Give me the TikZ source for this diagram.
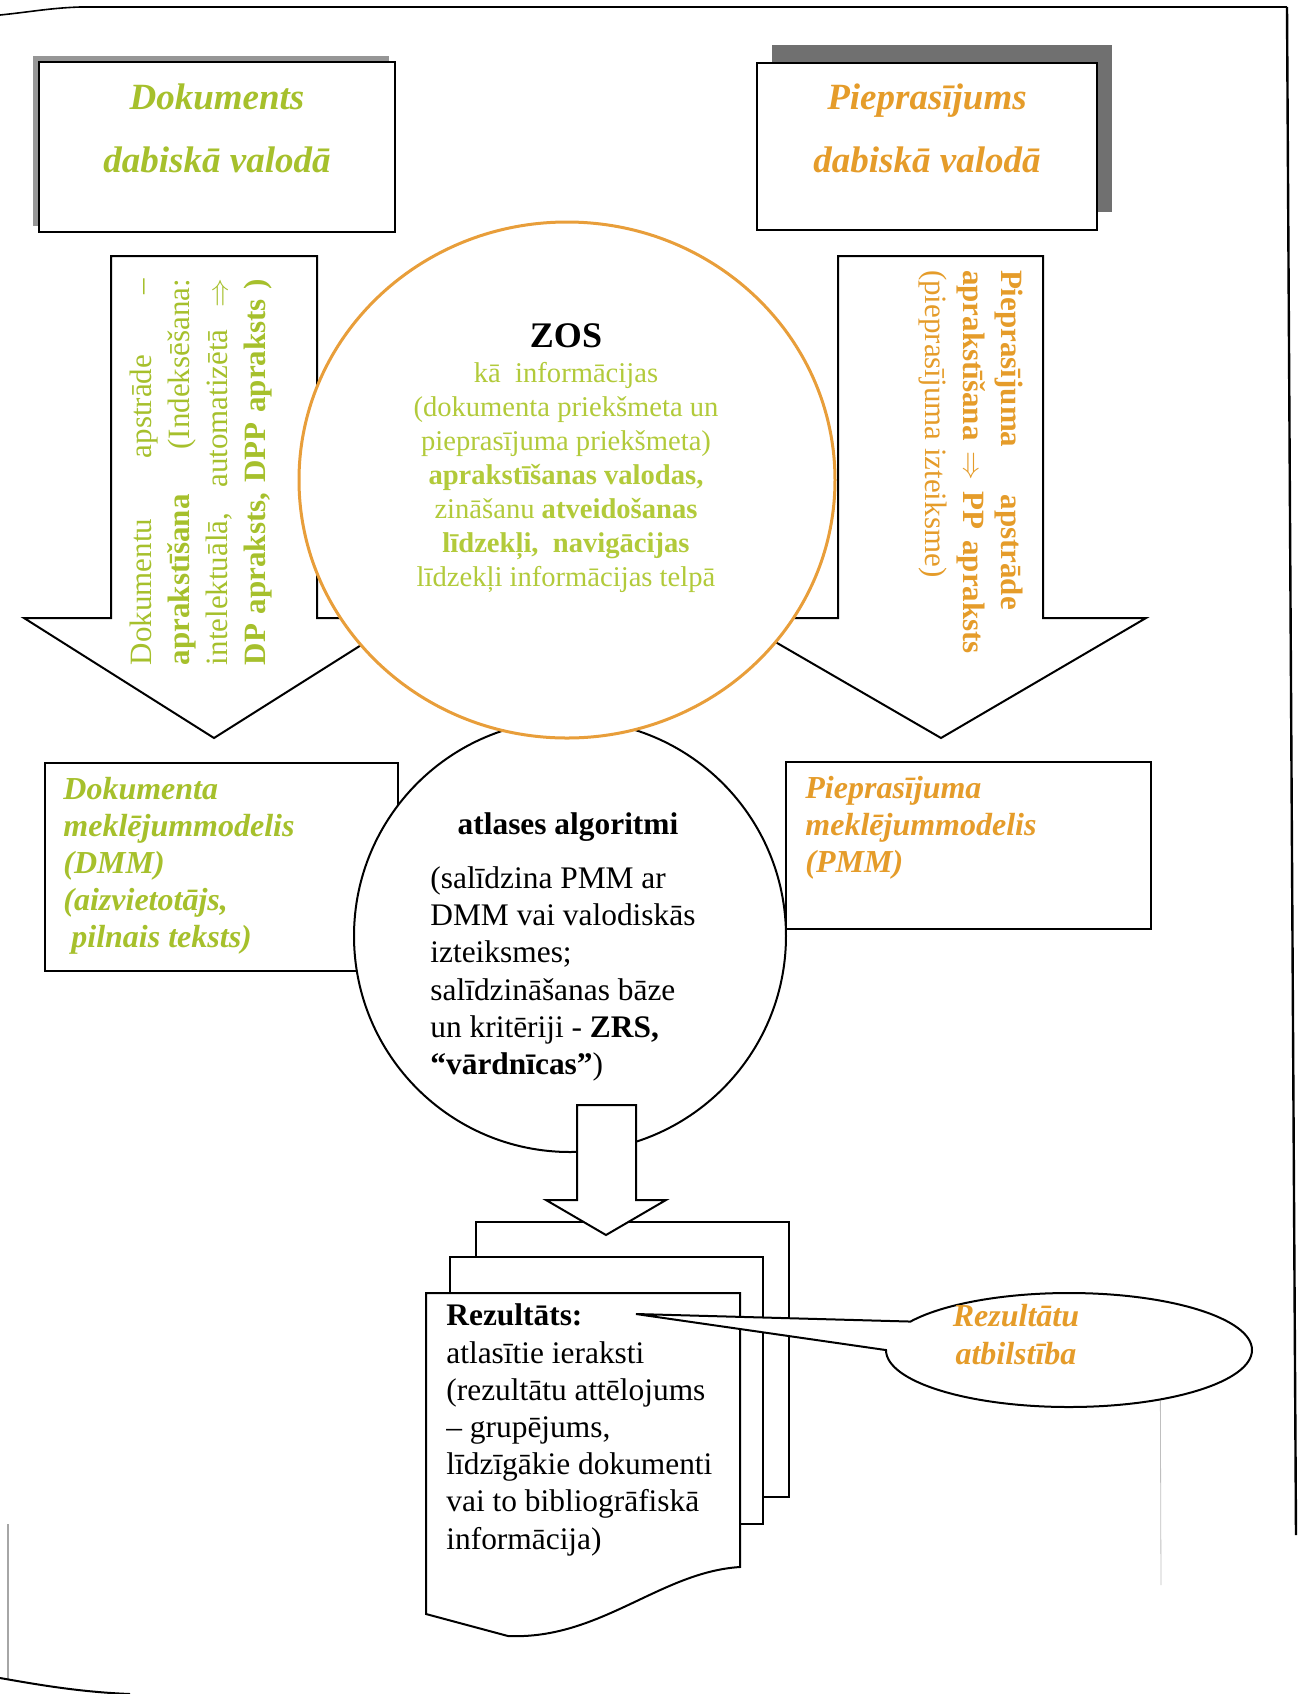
\documentclass[tikz,border=0pt]{standalone}
\usepackage{fontspec}
\setmainfont{Liberation Serif}
\usetikzlibrary{shapes.geometric,shapes.callouts}

\definecolor{docgreen}{RGB}{166,192,44}
\definecolor{zosgreen}{RGB}{178,202,58}
\definecolor{reqorange}{RGB}{229,156,42}
\definecolor{ringorange}{RGB}{232,158,58}
\definecolor{shadowlight}{RGB}{150,150,150}
\definecolor{shadowdark}{RGB}{112,112,112}

% stretch the interword spaces of one line over a given width
\newcommand\spreadline[2]{\makebox[#1][s]{#2}}

\begin{document}
\begin{tikzpicture}[x=0.5pt,y=-0.5pt,
  outline/.style={draw=black,line width=1pt},
  whitebox/.style={outline,fill=white,rectangle,inner sep=0pt},
  txt/.style={inner sep=0pt,font=\fontsize{15.7}{18.6}\selectfont},
  headgreen/.style={inner sep=0pt,text=docgreen,align=center,
    font=\fontsize{18.5}{31.5}\selectfont\bfseries\itshape},
  headorange/.style={headgreen,text=reqorange},
  modelgreen/.style={inner sep=0pt,text=docgreen,align=left,
    font=\fontsize{16}{18.5}\selectfont\bfseries\itshape},
  modelorange/.style={modelgreen,text=reqorange},
]
\useasboundingbox (0,0) rectangle (1298,1694);

% page edges
\draw[line width=0.8pt] (0,15) .. controls (30,12) and (50,8) .. (80,7) -- (1287,7);
\draw[line width=1.2pt] (1287,7) -- (1296,1535);
\draw[line width=0.8pt,black!35] (8,1524) -- (8,1680);
\draw[line width=1pt] (0,1678) .. controls (40,1685) and (80,1692) .. (130,1694);
\draw[line width=0.4pt,black!25] (1160,1300) -- (1161,1585);

% source boxes with their shadows
\fill[shadowlight] (33,56) rectangle (389,226);
\node[whitebox,minimum width=178pt,minimum height=85pt] (doc) at (217,147) {};
\node[headgreen] (doctext) at (217,128) {Dokuments\\dabiskā valodā};

\fill[shadowdark] (772,45) rectangle (1112,212);
\node[whitebox,minimum width=170pt,minimum height=83.5pt] (req) at (927,146.5) {};
\node[headorange] (reqtext) at (927,128) {Pieprasījums\\dabiskā valodā};

% broad processing arrows
\draw[outline,fill=white] (111,256) -- (317,256) -- (317,618) -- (404,618)
  -- (214,738) -- (24,618) -- (111,618) -- cycle;
\draw[outline,fill=white] (838,256) -- (1043,256) -- (1043,618) -- (1146,618)
  -- (941,738) -- (734,618) -- (838,618) -- cycle;

\node[inner sep=0pt,text=docgreen,rotate=90,align=left,
  font=\fontsize{15.5}{19}\selectfont] (docproc) at (201,472) {%
  \spreadline{193pt}{Dokumentu apstrāde –}\\
  \spreadline{193pt}{\textbf{aprakstīšana} (Indeksēšana:}\\
  \spreadline{193pt}{intelektuālā, automatizētā $\Rightarrow$}\\
  \spreadline{193pt}{\textbf{DP apraksts, DPP apraksts )}}};

\node[inner sep=0pt,text=reqorange,rotate=-90,align=left,
  font=\fontsize{15.5}{19}\selectfont] (reqproc) at (971,462) {%
  \makebox[192pt][l]{\spreadline{170pt}{\textbf{Pieprasījuma apstrāde}}}\\
  \spreadline{192pt}{\textbf{aprakstīšana $\Rightarrow$ PP apraksts}}\\
  \makebox[192pt][l]{(pieprasījuma izteiksme)}};

% search models
\node[whitebox,minimum width=176.5pt,minimum height=104pt] (dmm) at (221.5,867) {};
\node[modelgreen,anchor=west] (dmmtext) at (63,866)
  {Dokumenta\\meklējummodelis\\(DMM)\\(aizvietotājs,\\\ pilnais teksts)};

\node[whitebox,minimum width=182.5pt,minimum height=83.5pt] (pmm) at (968.5,845.5) {};
\node[modelorange,anchor=west] (pmmtext) at (805,828)
  {Pieprasījuma\\meklējummodelis\\(PMM)};

% selection algorithms
\node[circle,outline,fill=white,minimum size=216pt,inner sep=0pt] (algo) at (570,936) {};

% ZOS
\node[ellipse,draw=ringorange,line width=1.5pt,fill=white,
  minimum width=268pt,minimum height=258pt,inner sep=0pt] (zos) at (567,480) {};
\node[inner sep=0pt,font=\fontsize{18}{20}\selectfont\bfseries] (zostitle) at (566,336) {ZOS};
\node[inner sep=0pt,text=zosgreen,align=center,font=\fontsize{14.3}{17}\selectfont]
  (zostext) at (566,477) {%
  kā\ \ informācijas\\
  (dokumenta priekšmeta un\\
  pieprasījuma priekšmeta)\\
  \textbf{aprakstīšanas valodas,}\\
  zināšanu \textbf{atveidošanas}\\
  \textbf{līdzekļi,\ \ navigācijas}\\
  līdzekļi informācijas telpā};

\node[txt,font=\fontsize{15.7}{18.6}\selectfont\bfseries] (algotitle) at (568,827) {atlases algoritmi};
\node[txt,align=left,anchor=west] (algotext) at (430,974) {%
  (salīdzina PMM ar\\
  DMM vai valodiskās\\
  izteiksmes;\\
  salīdzināšanas bāze\\
  un kritēriji - \textbf{ZRS,}\\
  \textbf{“vārdnīcas”})};

% result pages
\node[whitebox,minimum width=156.5pt,minimum height=137.5pt] (pageback) at (632.5,1359.5) {};
\node[whitebox,minimum width=156.5pt,minimum height=133.5pt] (pagemid) at (606.5,1390.5) {};
\draw[outline,fill=white] (426,1293) -- (740,1293) -- (740,1567)
  .. controls (660,1572) and (600,1640) .. (508,1636) -- (426,1614) -- cycle;
\node[txt,align=left,anchor=west] (result) at (446,1430) {%
  \textbf{Rezultāts:}\\
  atlasītie ieraksti\\
  (rezultātu attēlojums\\
  – grupējums,\\
  līdzīgākie dokumenti\\
  vai to bibliogrāfiskā\\
  informācija)};

% output arrow
\draw[outline,fill=white] (577,1105) -- (636,1105) -- (636,1200) -- (666,1200)
  -- (606,1235) -- (546,1200) -- (577,1200) -- cycle;

% relevance callout
\coordinate (apex) at (636,1314);
\node[ellipse callout,outline,fill=white,minimum width=183pt,minimum height=57pt,
  inner sep=0pt,callout absolute pointer={(apex)},callout pointer arc=30] (relevance) at (1069,1350) {};
\node[headorange,font=\fontsize{16}{19}\selectfont\bfseries\itshape] (relevancetext) at (1016,1335)
  {Rezultātu\\atbilstība};
\end{tikzpicture}
\end{document}
